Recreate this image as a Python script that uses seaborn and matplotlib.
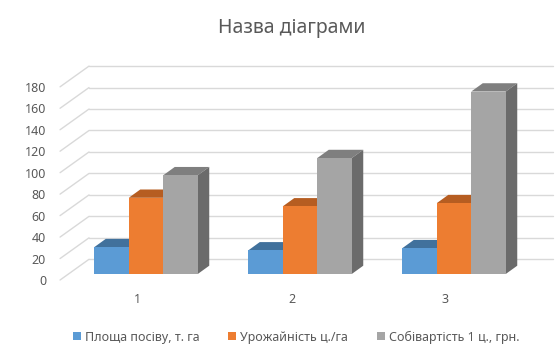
import numpy as np
import pandas as pd
import seaborn as sns
import matplotlib.pyplot as plt
import matplotlib.transforms as mtransforms
from matplotlib.patches import Polygon, Patch

# Дані діаграми
categories = ["1", "2", "3"]
series_names = ["Площа посіву, т. га", "Урожайність ц./га", "Собівартість 1 ц., грн."]
area = [25, 22, 24]
crop_yield = [71, 63, 66]
cost = [92, 108, 170]
y_ticks = list(range(0, 181, 20))

colors_front = ["#5B9BD5", "#ED7D31", "#A5A5A5"]
colors_top = ["#41719C", "#B65D21", "#7F7F7F"]
colors_side = ["#3E6A93", "#AE5A21", "#6B6B6B"]
grid_color = "#D9D9D9"
text_color = "#595959"

df = pd.DataFrame({
    "cat": categories * 3,
    "series": np.repeat(series_names, 3),
    "value": area + crop_yield + cost,
})

sns.set_theme(style="white")
plt.rcParams["font.family"] = ["Noto Sans", "DejaVu Sans"]

W, H = 557, 352
fig = plt.figure(figsize=(W / 100, H / 100), dpi=100)
# площина фронтальних граней стовпчиків
ax = fig.add_axes([69 / W, (H - 274) / H, (531 - 69) / W, (274 - 80.8) / H])
sns.barplot(data=df, x="cat", y="value", hue="series", palette=colors_front,
            width=0.672, gap=0, saturation=1, legend=False, ax=ax, zorder=5)
ax.set_xlim(-0.5, 2.5)
ax.set_ylim(0, 180)

# псевдо-3D зміщення (в одиницях даних)
bar_dx, bar_dy = 0.0747, 7.73
back_dx, back_dy = 0.13, 13.7
front_dx, front_dy = -0.058, -5.6
right_end = 2.643

for v in y_ticks:
    ax.plot([back_dx - 0.5, right_end], [v + back_dy, v + back_dy],
            color=grid_color, lw=1, clip_on=False, zorder=1)
    ax.plot([front_dx - 0.5, back_dx - 0.5], [v + front_dy, v + back_dy],
            color=grid_color, lw=1, clip_on=False, zorder=1)

bars = list(ax.patches)
for i, p in enumerate(bars):
    k = i // 3
    x0, w, h = p.get_x(), p.get_width(), p.get_height()
    x1 = x0 + w
    top = Polygon([(x0, h), (x1, h), (x1 + bar_dx, h + bar_dy), (x0 + bar_dx, h + bar_dy)],
                  closed=True, facecolor=colors_top[k], edgecolor="none", zorder=3, clip_on=False)
    side = Polygon([(x1, 0), (x1 + bar_dx, bar_dy), (x1 + bar_dx, h + bar_dy), (x1, h)],
                   closed=True, facecolor=colors_side[k], edgecolor="none", zorder=3, clip_on=False)
    ax.add_patch(top)
    ax.add_patch(side)
    p.set_edgecolor("none")
    p.set_clip_on(False)

sns.despine(ax=ax, left=True, bottom=True)
ax.set_xlabel("")
ax.set_ylabel("")
ax.set_yticks(y_ticks)
ax.set_yticklabels([str(v) for v in y_ticks])
ax.tick_params(axis="y", length=0, pad=16.5, labelsize=9, labelcolor=text_color)
ax.tick_params(axis="x", length=0, pad=13.5, labelsize=9, labelcolor=text_color)
ax.patch.set_alpha(0)

shift_y = mtransforms.ScaledTranslation(0, -0.06, fig.dpi_scale_trans)
for lab in ax.get_yticklabels():
    lab.set_transform(lab.get_transform() + shift_y)
shift_x = mtransforms.ScaledTranslation(-0.085, 0, fig.dpi_scale_trans)
for lab in ax.get_xticklabels():
    lab.set_transform(lab.get_transform() + shift_x)

fig.text(292 / W, 1 - 28 / H, "Назва діаграми", ha="center", va="center",
         fontsize=14, color=text_color)

handles = [Patch(facecolor=c, edgecolor="none") for c in colors_front]
fig.legend(handles, series_names, loc="center", bbox_to_anchor=(296 / W, 1 - 337 / H),
           ncol=3, frameon=False, fontsize=9, labelcolor=text_color,
           handlelength=0.65, handleheight=0.65, handletextpad=0.3, columnspacing=2.3)

fig.savefig("out.png", dpi=100)
